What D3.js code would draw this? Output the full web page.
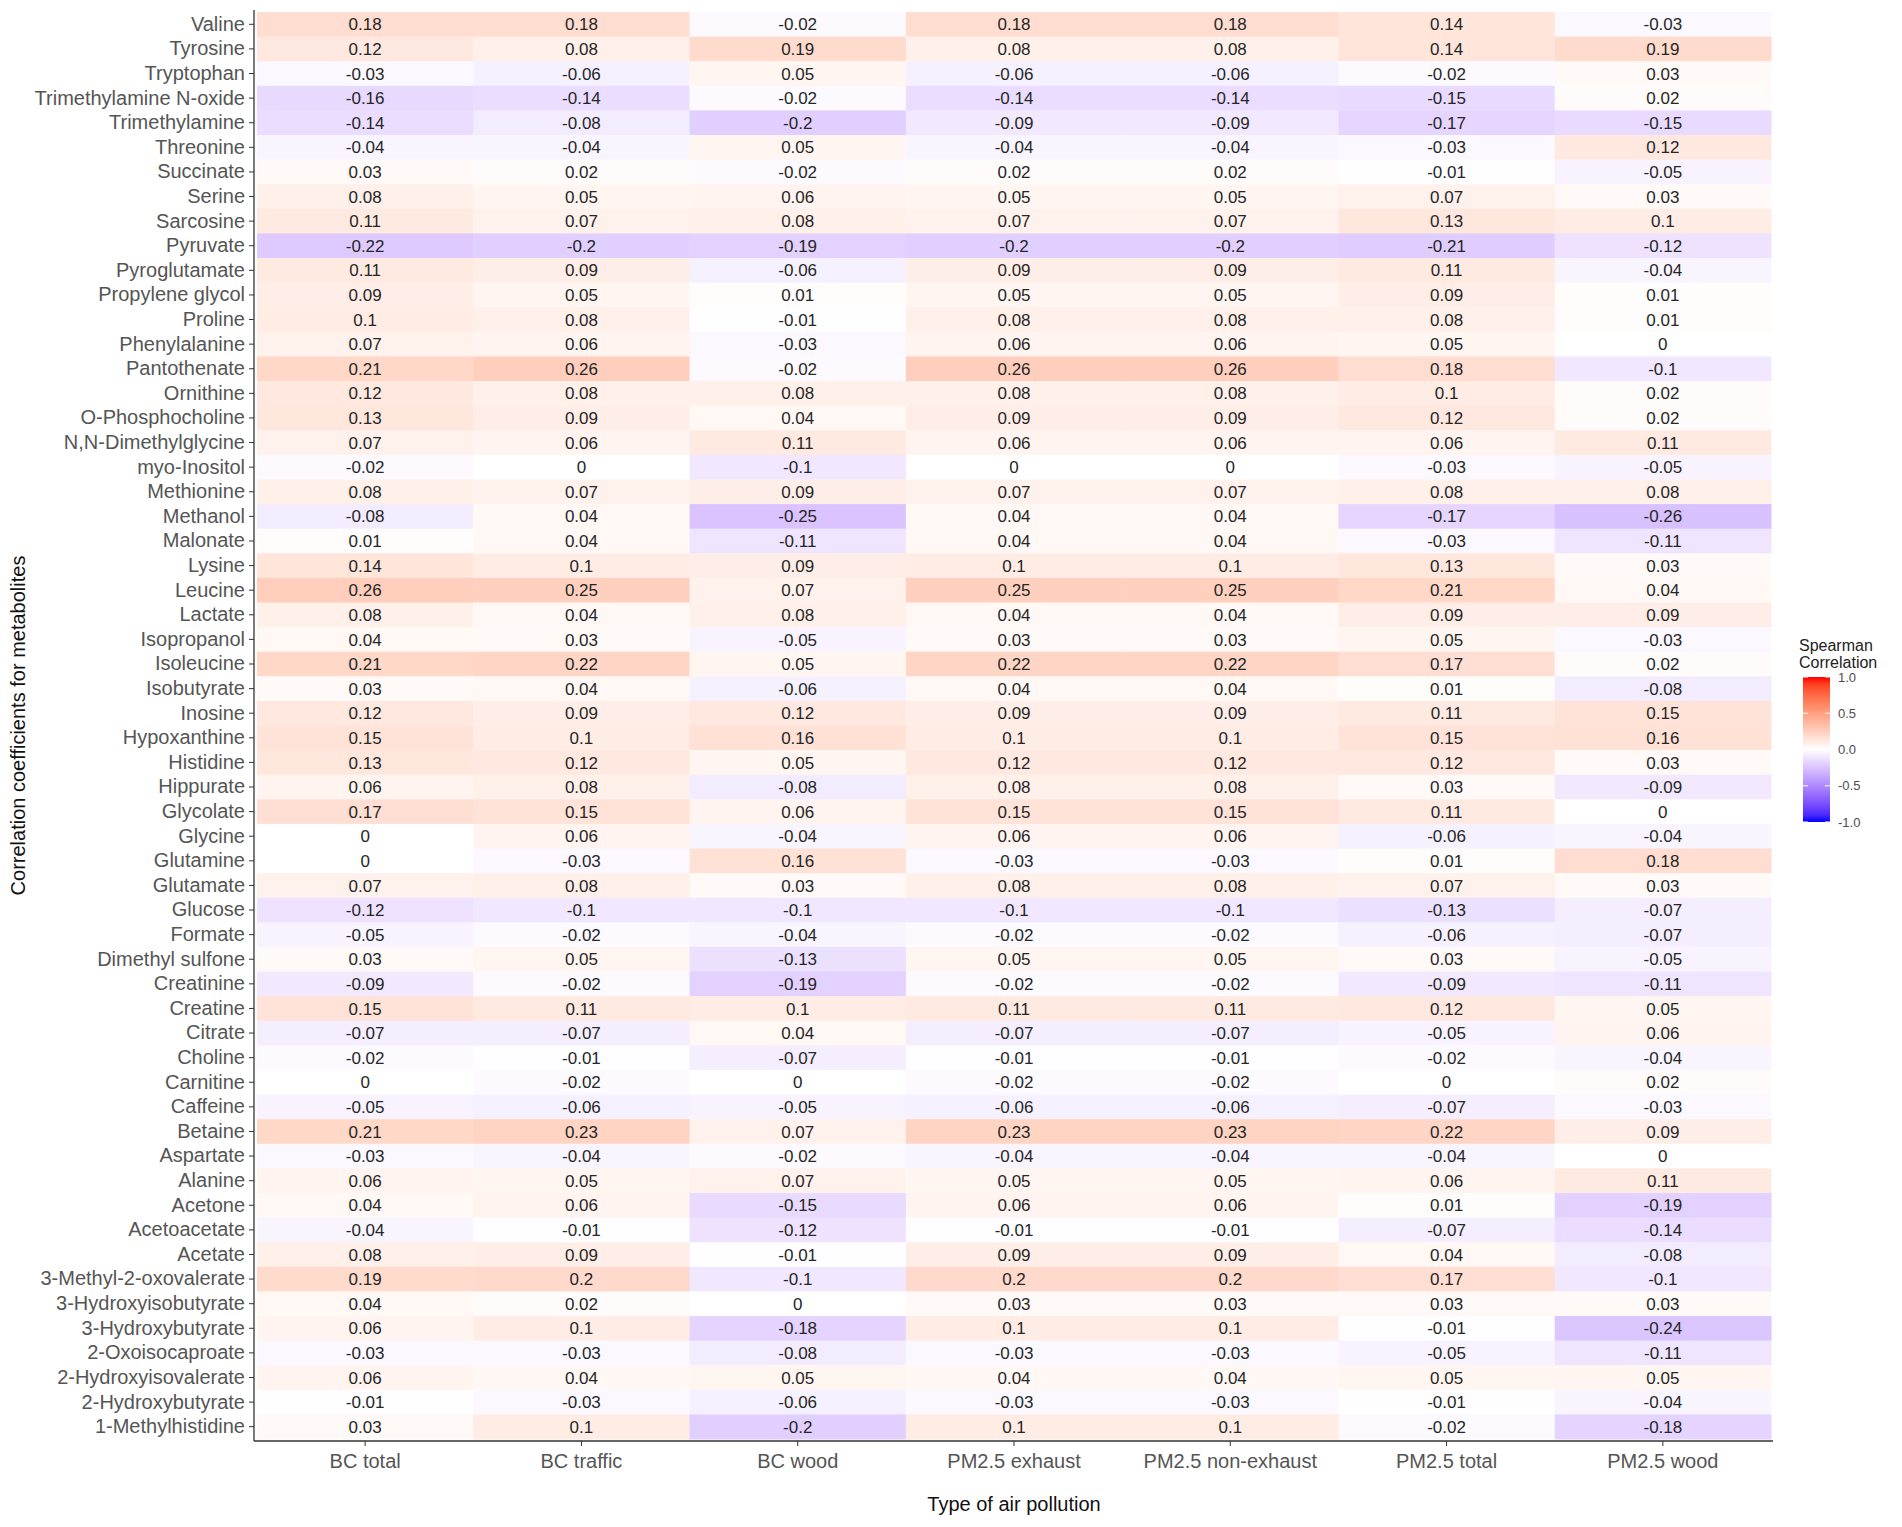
<!DOCTYPE html>
<html>
<head>
<meta charset="utf-8">
<script src="https://cdn.jsdelivr.net/npm/d3@7"></script>
<style>
  body { margin: 0; background: #fff; }
  svg text { font-family: "Liberation Sans", Arial, sans-serif; }
</style>
</head>
<body>
<div id="chart"></div>
<script>
  const metabolites = ['Valine', 'Tyrosine', 'Tryptophan', 'Trimethylamine N-oxide', 'Trimethylamine', 'Threonine',
    'Succinate', 'Serine', 'Sarcosine', 'Pyruvate', 'Pyroglutamate', 'Propylene glycol', 'Proline', 'Phenylalanine',
    'Pantothenate', 'Ornithine', 'O-Phosphocholine', 'N,N-Dimethylglycine', 'myo-Inositol', 'Methionine', 'Methanol',
    'Malonate', 'Lysine', 'Leucine', 'Lactate', 'Isopropanol', 'Isoleucine', 'Isobutyrate', 'Inosine', 'Hypoxanthine',
    'Histidine', 'Hippurate', 'Glycolate', 'Glycine', 'Glutamine', 'Glutamate', 'Glucose', 'Formate', 'Dimethyl sulfone',
    'Creatinine', 'Creatine', 'Citrate', 'Choline', 'Carnitine', 'Caffeine', 'Betaine', 'Aspartate', 'Alanine', 'Acetone',
    'Acetoacetate', 'Acetate', '3-Methyl-2-oxovalerate', '3-Hydroxyisobutyrate', '3-Hydroxybutyrate', '2-Oxoisocaproate',
    '2-Hydroxyisovalerate', '2-Hydroxybutyrate', '1-Methylhistidine'];

  const pollutants = ['BC total', 'BC traffic', 'BC wood', 'PM2.5 exhaust', 'PM2.5 non-exhaust', 'PM2.5 total', 'PM2.5 wood'];

  // one array per pollutant, same order as metabolites
  const bcTotal = [0.18, 0.12, -0.03, -0.16, -0.14, -0.04, 0.03, 0.08, 0.11, -0.22, 0.11, 0.09, 0.1, 0.07, 0.21, 0.12,
    0.13, 0.07, -0.02, 0.08, -0.08, 0.01, 0.14, 0.26, 0.08, 0.04, 0.21, 0.03, 0.12, 0.15, 0.13, 0.06, 0.17, 0, 0, 0.07,
    -0.12, -0.05, 0.03, -0.09, 0.15, -0.07, -0.02, 0, -0.05, 0.21, -0.03, 0.06, 0.04, -0.04, 0.08, 0.19, 0.04, 0.06,
    -0.03, 0.06, -0.01, 0.03];
  const bcTraffic = [0.18, 0.08, -0.06, -0.14, -0.08, -0.04, 0.02, 0.05, 0.07, -0.2, 0.09, 0.05, 0.08, 0.06, 0.26, 0.08,
    0.09, 0.06, 0, 0.07, 0.04, 0.04, 0.1, 0.25, 0.04, 0.03, 0.22, 0.04, 0.09, 0.1, 0.12, 0.08, 0.15, 0.06, -0.03, 0.08,
    -0.1, -0.02, 0.05, -0.02, 0.11, -0.07, -0.01, -0.02, -0.06, 0.23, -0.04, 0.05, 0.06, -0.01, 0.09, 0.2, 0.02, 0.1,
    -0.03, 0.04, -0.03, 0.1];
  const bcWood = [-0.02, 0.19, 0.05, -0.02, -0.2, 0.05, -0.02, 0.06, 0.08, -0.19, -0.06, 0.01, -0.01, -0.03, -0.02, 0.08,
    0.04, 0.11, -0.1, 0.09, -0.25, -0.11, 0.09, 0.07, 0.08, -0.05, 0.05, -0.06, 0.12, 0.16, 0.05, -0.08, 0.06, -0.04, 0.16,
    0.03, -0.1, -0.04, -0.13, -0.19, 0.1, 0.04, -0.07, 0, -0.05, 0.07, -0.02, 0.07, -0.15, -0.12, -0.01, -0.1, 0, -0.18,
    -0.08, 0.05, -0.06, -0.2];
  const pmExhaust = [0.18, 0.08, -0.06, -0.14, -0.09, -0.04, 0.02, 0.05, 0.07, -0.2, 0.09, 0.05, 0.08, 0.06, 0.26, 0.08,
    0.09, 0.06, 0, 0.07, 0.04, 0.04, 0.1, 0.25, 0.04, 0.03, 0.22, 0.04, 0.09, 0.1, 0.12, 0.08, 0.15, 0.06, -0.03, 0.08,
    -0.1, -0.02, 0.05, -0.02, 0.11, -0.07, -0.01, -0.02, -0.06, 0.23, -0.04, 0.05, 0.06, -0.01, 0.09, 0.2, 0.03, 0.1,
    -0.03, 0.04, -0.03, 0.1];
  const pmNonExhaust = [0.18, 0.08, -0.06, -0.14, -0.09, -0.04, 0.02, 0.05, 0.07, -0.2, 0.09, 0.05, 0.08, 0.06, 0.26, 0.08,
    0.09, 0.06, 0, 0.07, 0.04, 0.04, 0.1, 0.25, 0.04, 0.03, 0.22, 0.04, 0.09, 0.1, 0.12, 0.08, 0.15, 0.06, -0.03, 0.08,
    -0.1, -0.02, 0.05, -0.02, 0.11, -0.07, -0.01, -0.02, -0.06, 0.23, -0.04, 0.05, 0.06, -0.01, 0.09, 0.2, 0.03, 0.1,
    -0.03, 0.04, -0.03, 0.1];
  const pmTotal = [0.14, 0.14, -0.02, -0.15, -0.17, -0.03, -0.01, 0.07, 0.13, -0.21, 0.11, 0.09, 0.08, 0.05, 0.18, 0.1,
    0.12, 0.06, -0.03, 0.08, -0.17, -0.03, 0.13, 0.21, 0.09, 0.05, 0.17, 0.01, 0.11, 0.15, 0.12, 0.03, 0.11, -0.06, 0.01,
    0.07, -0.13, -0.06, 0.03, -0.09, 0.12, -0.05, -0.02, 0, -0.07, 0.22, -0.04, 0.06, 0.01, -0.07, 0.04, 0.17, 0.03, -0.01,
    -0.05, 0.05, -0.01, -0.02];
  const pmWood = [-0.03, 0.19, 0.03, 0.02, -0.15, 0.12, -0.05, 0.03, 0.1, -0.12, -0.04, 0.01, 0.01, 0, -0.1, 0.02,
    0.02, 0.11, -0.05, 0.08, -0.26, -0.11, 0.03, 0.04, 0.09, -0.03, 0.02, -0.08, 0.15, 0.16, 0.03, -0.09, 0, -0.04, 0.18,
    0.03, -0.07, -0.07, -0.05, -0.11, 0.05, 0.06, -0.04, 0.02, -0.03, 0.09, 0, 0.11, -0.19, -0.14, -0.08, -0.1, 0.03, -0.24,
    -0.11, 0.05, -0.04, -0.18];

  const legendTicks = [1, 0.5, 0, -0.5, -1];

  const columns = [bcTotal, bcTraffic, bcWood, pmExhaust, pmNonExhaust, pmTotal, pmWood];

  const width = 1902, height = 1527;
  const panel = { left: 257, right: 1771, top: 12, bottom: 1439 };

  const cells = [];
  columns.forEach((col, j) => {
    col.forEach((v, i) => cells.push({ x: pollutants[j], y: metabolites[i], v: v }));
  });

  const svg = d3.select('#chart')
    .append('svg')
    .attr('width', width)
    .attr('height', height);

  const x = d3.scaleBand()
    .domain(pollutants)
    .range([panel.left, panel.right]);

  const y = d3.scaleBand()
    .domain(metabolites)
    .range([panel.top, panel.bottom]);

  // diverging blue - white - red, like scale_fill_gradient2
  const color = d3.scaleLinear()
    .domain([-1, 0, 1])
    .range(['blue', 'white', 'red'])
    .interpolate(d3.interpolateLab);

  // tiles
  svg.append('g')
    .selectAll('rect')
    .data(cells)
    .enter()
    .append('rect')
    .attr('x', d => x(d.x))
    .attr('y', d => y(d.y))
    .attr('width', x.bandwidth() + 0.5)
    .attr('height', y.bandwidth() + 0.5)
    .attr('fill', d => color(d.v));

  // value labels
  svg.append('g')
    .selectAll('text')
    .data(cells)
    .enter()
    .append('text')
    .attr('x', d => x(d.x) + x.bandwidth() / 2)
    .attr('y', d => y(d.y) + y.bandwidth() / 2)
    .attr('dy', '.36em')
    .attr('text-anchor', 'middle')
    .attr('font-size', 17)
    .attr('fill', '#262626')
    .text(d => String(d.v));

  // axes
  const axisColor = '#333';

  const yAxis = svg.append('g')
    .attr('transform', `translate(${panel.left - 3},0)`)
    .call(d3.axisLeft(y).tickSize(5).tickPadding(4).tickSizeOuter(0));
  yAxis.select('.domain').remove();
  yAxis.selectAll('line').attr('stroke', axisColor);
  yAxis.selectAll('text').attr('font-size', 20).attr('fill', '#555')
    .style('font-family', '"Liberation Sans", Arial, sans-serif');

  const xAxis = svg.append('g')
    .attr('transform', `translate(0,${panel.bottom + 2})`)
    .call(d3.axisBottom(x).tickSize(5).tickPadding(8).tickSizeOuter(0));
  xAxis.select('.domain').remove();
  xAxis.selectAll('line').attr('stroke', axisColor);
  xAxis.selectAll('text').attr('font-size', 20).attr('fill', '#555')
    .style('font-family', '"Liberation Sans", Arial, sans-serif');

  svg.append('line')
    .attr('x1', panel.left - 3).attr('x2', panel.left - 3)
    .attr('y1', panel.top - 2).attr('y2', panel.bottom + 2)
    .attr('stroke', axisColor).attr('stroke-width', 1.3);
  svg.append('line')
    .attr('x1', panel.left - 3).attr('x2', panel.right + 2)
    .attr('y1', panel.bottom + 2).attr('y2', panel.bottom + 2)
    .attr('stroke', axisColor).attr('stroke-width', 1.3);

  // axis titles
  svg.append('text')
    .attr('x', (panel.left + panel.right) / 2)
    .attr('y', 1511)
    .attr('text-anchor', 'middle')
    .attr('font-size', 20)
    .attr('fill', '#111')
    .text('Type of air pollution');

  svg.append('text')
    .attr('transform', `translate(25,${(panel.top + panel.bottom) / 2}) rotate(-90)`)
    .attr('text-anchor', 'middle')
    .attr('font-size', 20)
    .attr('fill', '#111')
    .text('Correlation coefficients for metabolites');

  // legend
  const legend = svg.append('g');
  const ly = d3.scaleLinear().domain([-1, 1]).range([822, 677]);
  const barX = 1803, barW = 27;

  const grad = svg.append('defs').append('linearGradient')
    .attr('id', 'corr-grad')
    .attr('x1', 0).attr('y1', 1).attr('x2', 0).attr('y2', 0);
  d3.range(-1, 1.001, 0.1).forEach(v => {
    grad.append('stop')
      .attr('offset', (v + 1) / 2)
      .attr('stop-color', color(v));
  });

  legend.append('rect')
    .attr('x', barX)
    .attr('y', ly(1))
    .attr('width', barW)
    .attr('height', ly(-1) - ly(1))
    .attr('fill', 'url(#corr-grad)');

  legend.selectAll('.tick-l')
    .data(legendTicks)
    .enter()
    .append('line')
    .attr('x1', barX).attr('x2', barX + 5)
    .attr('y1', d => ly(d)).attr('y2', d => ly(d))
    .attr('stroke', 'white');
  legend.selectAll('.tick-r')
    .data(legendTicks)
    .enter()
    .append('line')
    .attr('x1', barX + barW - 5).attr('x2', barX + barW)
    .attr('y1', d => ly(d)).attr('y2', d => ly(d))
    .attr('stroke', 'white');

  legend.selectAll('.lab')
    .data(legendTicks)
    .enter()
    .append('text')
    .attr('x', barX + barW + 8)
    .attr('y', d => ly(d))
    .attr('dy', '.35em')
    .attr('font-size', 13)
    .attr('fill', '#4d4d4d')
    .text(d => d3.format('.1f')(d).replace('−', '-'));

  legend.append('text')
    .attr('x', 1799).attr('y', 651)
    .attr('font-size', 16)
    .attr('fill', '#222')
    .text('Spearman');
  legend.append('text')
    .attr('x', 1799).attr('y', 668)
    .attr('font-size', 16)
    .attr('fill', '#222')
    .text('Correlation');
</script>
</body>
</html>
